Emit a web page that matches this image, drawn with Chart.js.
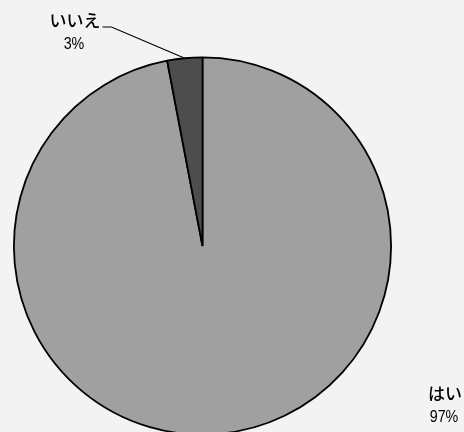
<!DOCTYPE html>
<html>
<head>
<meta charset="utf-8">
<script src="https://cdn.jsdelivr.net/npm/chart.js@4/dist/chart.umd.min.js"></script>
<style>
  html, body { margin: 0; padding: 0; background: #f3f3f3; overflow: hidden; }
  #wrap { width: 464px; height: 432px; overflow: hidden; }
  canvas { display: block; }
</style>
</head>
<body>
<div id="wrap"><canvas id="c" width="464" height="440"></canvas></div>
<script>
// Survey answers: "yes" / "no" share in percent
const categories = ['はい', 'いいえ'];
const shares = [97, 3];
const sliceColors = ['#a0a0a0', '#4d4d4d'];

// Label anchor positions (text centre) for each answer
const labelSpots = [
  { x: 445, y: 394, leader: false },
  { x: 75, y: 21, leader: true }
];

const pieLabels = {
  id: 'pieLabels',
  afterDatasetsDraw(chart) {
    const ctx = chart.ctx;
    const meta = chart.getDatasetMeta(0);
    ctx.save();
    ctx.fillStyle = '#000';
    ctx.textAlign = 'center';
    ctx.textBaseline = 'middle';
    meta.data.forEach((arc, i) => {
      const spot = labelSpots[i];
      ctx.font = '500 17px "Noto Sans CJK JP", sans-serif';
      const w = ctx.measureText(categories[i]).width;
      ctx.fillText(categories[i], spot.x, spot.y);
      // percentage line, slightly condensed
      ctx.save();
      ctx.translate(spot.x - 1, spot.y + 23);
      ctx.scale(0.84, 1);
      ctx.font = '17px "Liberation Sans", Arial, sans-serif';
      ctx.fillText(shares[i] + '%', 0, 0);
      ctx.restore();
      if (spot.leader) {
        const mid = (arc.startAngle + arc.endAngle) / 2;
        const ex = arc.x + Math.cos(mid) * arc.outerRadius;
        const ey = arc.y + Math.sin(mid) * arc.outerRadius;
        const sx = spot.x + w / 2 + 2;
        const sy = spot.y + 6;
        ctx.beginPath();
        ctx.lineWidth = 1.2;
        ctx.strokeStyle = '#000';
        ctx.moveTo(sx, sy);
        ctx.lineTo(sx + 9, sy);
        ctx.lineTo(ex, ey);
        ctx.stroke();
      }
    });
    ctx.restore();
  }
};

new Chart(document.getElementById('c'), {
  type: 'pie',
  data: {
    labels: categories,
    datasets: [{
      data: shares,
      backgroundColor: sliceColors,
      borderColor: '#000',
      borderWidth: 1.8
    }]
  },
  options: {
    responsive: false,
    animation: false,
    layout: { padding: { left: 13, top: 56, right: 72, bottom: 4 } },
    plugins: {
      legend: { display: false },
      tooltip: { enabled: false }
    }
  },
  plugins: [pieLabels]
});
</script>
</body>
</html>
